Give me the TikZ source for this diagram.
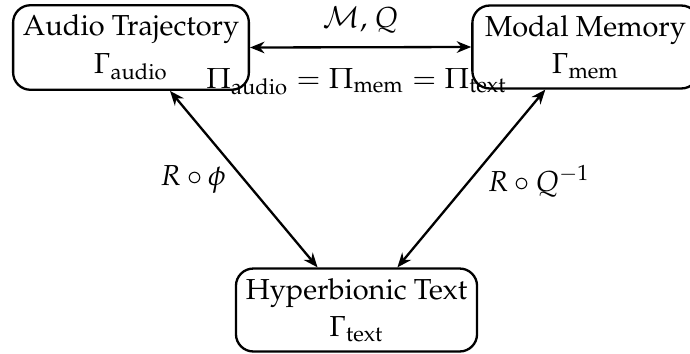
\documentclass[tikz,border=0pt]{standalone}
\usepackage[T1]{fontenc}
\usepackage{mathpazo}
\usepackage{amsmath}
\usetikzlibrary{arrows.meta,calc}
\newlength\pxu
\setlength\pxu{0.346pt}
\begin{document}
\begin{tikzpicture}[x=\pxu,y=-\pxu,
  stage/.style={draw,thick,rounded corners=6pt,align=center,inner sep=3.4pt},
  link/.style={thick,{Stealth[length=5pt,width=4pt,inset=1.6pt]}-{Stealth[length=5pt,width=4pt,inset=1.6pt]}}]
  \useasboundingbox (0,0) rectangle (690,353);
  % the three representations
  \node[stage] (A) at (131,47.5) {Audio Trajectory\\[1pt] $\Gamma_{\text{audio}}$};
  \node[stage,inner xsep=4.4pt] (M) at (585.5,47) {Modal Memory\\[1pt] $\Gamma_{\text{mem}}$};
  \node[stage] (H) at (356.5,310) {Hyperbionic Text\\[1pt] $\Gamma_{\text{text}}$};
  % attachment points on the box edges
  \coordinate (a1) at ($(A.south west)!0.664!(A.south east)$);
  \coordinate (m1) at ($(M.south west)!0.324!(M.south east)$);
  \coordinate (h1) at ($(H.north west)!0.34!(H.north east)$);
  \coordinate (h2) at ($(H.north west)!0.668!(H.north east)$);
  % maps between them
  \draw[link] (A.east) -- node[above=1pt] {$\mathcal{M}$, $Q$}
    node[below=3.5pt,xshift=-4\pxu] {$\Pi_{\text{audio}}=\Pi_{\text{mem}}=\Pi_{\text{text}}$} (M.west);
  \draw[link] (a1) -- node[left=2.5pt] {$R\circ\phi$} (h1);
  \draw[link] (m1) -- node[right=2pt,yshift=-1pt] {$R\circ Q^{-1}$} (h2);
\end{tikzpicture}
\end{document}
